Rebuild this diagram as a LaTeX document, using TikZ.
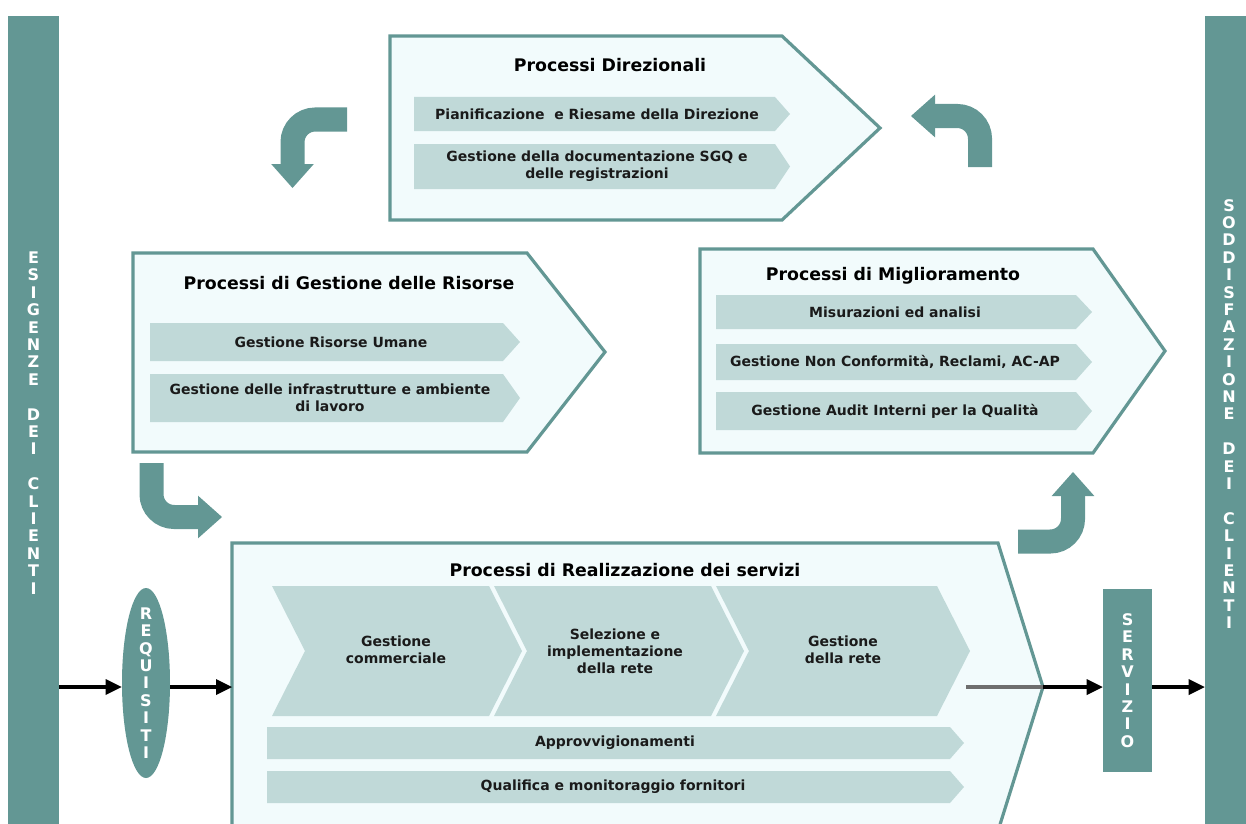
\documentclass[tikz,border=0pt]{standalone}
\usepackage{fontspec}
\setmainfont{DejaVu Sans}
\usepackage{xcolor}
\usepackage{tikz}
\usetikzlibrary{arrows.meta,shapes.geometric}

\definecolor{tealdark}{RGB}{99,151,148}
\definecolor{boxfill}{RGB}{242,251,252}
\definecolor{barfill}{RGB}{192,217,216}
\definecolor{textdark}{RGB}{26,26,26}
\definecolor{flowgray}{RGB}{110,110,110}

\begin{document}
\begin{tikzpicture}[x=0.75pt,y=-0.75pt,
    procbox/.style={draw=tealdark, line width=2.4pt, fill=boxfill},
    procbar/.style={fill=barfill},
    proctitle/.style={font=\fontsize{13}{15}\selectfont\bfseries, text=black},
    item/.style={font=\fontsize{10.5}{12.75}\selectfont\bfseries, text=textdark, align=center},
    letters/.style={font=\fontsize{12}{13.05}\selectfont\bfseries, text=white, align=center, inner sep=0pt},
    tealbar/.style={fill=tealdark, inner sep=0pt},
    flowarrow/.style={line width=3pt, -{Triangle[length=12pt,width=12pt,line width=0pt]}},
    bendarrow/.style={draw=tealdark, line width=18pt, rounded corners=17pt,
        -{Triangle[length=18pt,width=32pt,line width=0pt]}}]
    \useasboundingbox (0,0) rectangle (1246,824);

    % Customer bars
    \node[tealbar, minimum width=38.25pt, minimum height=610.5pt] (esigenze) at (33.5,423) {};
    \node[letters] (esigenzetext) at (esigenze)
        {E\\S\\I\\G\\E\\N\\Z\\E\\~\\D\\E\\I\\~\\C\\L\\I\\E\\N\\T\\I};
    \node[tealbar, minimum width=36pt, minimum height=610.5pt] (soddisfazione) at (1229,423) {};
    \node[letters] (soddisfazionetext) at (1229,414)
        {S\\O\\D\\D\\I\\S\\F\\A\\Z\\I\\O\\N\\E\\~\\D\\E\\I\\~\\C\\L\\I\\E\\N\\T\\I};

    % Processi Direzionali
    \draw[procbox] (390,36) -- (782,36) -- (880,128) -- (782,220) -- (390,220) -- cycle;
    \node[proctitle] (direzionali) at (610,65) {Processi Direzionali};
    \fill[procbar] (414,97) -- (775,97) -- (790,114) -- (775,131) -- (414,131) -- cycle;
    \node[item] (pianificazione) at (597,114) {Pianificazione \ e Riesame della Direzione};
    \fill[procbar] (414,144) -- (775,144) -- (790,166.5) -- (775,189) -- (414,189) -- cycle;
    \node[item] (documentazione) at (597,166.5) {Gestione della documentazione SGQ e\\delle registrazioni};

    % Processi di Gestione delle Risorse
    \draw[procbox] (133,253) -- (527,253) -- (605,352) -- (527,452) -- (133,452) -- cycle;
    \node[proctitle] (risorse) at (349,283) {Processi di Gestione delle Risorse};
    \fill[procbar] (150,323) -- (503,323) -- (520,342) -- (503,361) -- (150,361) -- cycle;
    \node[item] (umane) at (331,342) {Gestione Risorse Umane};
    \fill[procbar] (150,374) -- (503,374) -- (520,398) -- (503,422) -- (150,422) -- cycle;
    \node[item] (infrastrutture) at (330,398) {Gestione delle infrastrutture e ambiente\\di lavoro};

    % Processi di Miglioramento
    \draw[procbox] (700,249) -- (1093,249) -- (1165,351) -- (1093,453) -- (700,453) -- cycle;
    \node[proctitle] (miglioramento) at (893,276) {Processi di Miglioramento};
    \fill[procbar] (716,295) -- (1076,295) -- (1092,312) -- (1076,329) -- (716,329) -- cycle;
    \node[item] (misurazioni) at (895,312) {Misurazioni ed analisi};
    \fill[procbar] (716,344) -- (1076,344) -- (1092,362) -- (1076,380) -- (716,380) -- cycle;
    \node[item] (nonconformita) at (895,362) {Gestione Non Conformità, Reclami, AC-AP};
    \fill[procbar] (716,392) -- (1076,392) -- (1092,411) -- (1076,430) -- (716,430) -- cycle;
    \node[item] (audit) at (895,411) {Gestione Audit Interni per la Qualità};

    % Processi di Realizzazione dei servizi
    \draw[procbox] (232,543) -- (998,543) -- (1043,687) -- (998,831) -- (232,831) -- cycle;
    \node[proctitle] (realizzazione) at (625,570) {Processi di Realizzazione dei servizi};
    \fill[procbar] (272,586) -- (489,586) -- (522,651) -- (489,716) -- (272,716) -- (305,651) -- cycle;
    \node[item] (commerciale) at (396,650) {Gestione\\commerciale};
    \fill[procbar] (494,586) -- (711,586) -- (744,651) -- (711,716) -- (494,716) -- (527,651) -- cycle;
    \node[item] (selezione) at (615,651) {Selezione e\\implementazione\\della rete};
    \fill[procbar] (716,586) -- (937,586) -- (970,651) -- (937,716) -- (716,716) -- (749,651) -- cycle;
    \node[item] (gestionerete) at (843,650) {Gestione\\della rete};
    \fill[procbar] (267,727) -- (950,727) -- (964,743) -- (950,759) -- (267,759) -- cycle;
    \node[item] (approvvigionamenti) at (615,743) {Approvvigionamenti};
    \fill[procbar] (267,771) -- (950,771) -- (964,787) -- (950,803) -- (267,803) -- cycle;
    \node[item] (fornitori) at (613,787) {Qualifica e monitoraggio fornitori};

    % Requisiti and Servizio
    \node[ellipse, fill=tealdark, minimum width=36pt, minimum height=142.5pt, inner sep=0pt] (requisiti) at (146,683) {};
    \node[letters] (requisititext) at (requisiti) {R\\E\\Q\\U\\I\\S\\I\\T\\I};
    \node[tealbar, minimum width=36.75pt, minimum height=137.25pt] (servizio) at (1127.5,680.5) {};
    \node[letters] (serviziotext) at (servizio) {S\\E\\R\\V\\I\\Z\\I\\O};

    % Flow
    \coordinate (realin) at (232,687);
    \coordinate (realout) at (1043,687);
    \coordinate (reteout) at (966,687);
    \draw[flowarrow] (esigenze.east |- realin) -- (requisiti.west |- realin);
    \draw[flowarrow] (requisiti.east |- realin) -- (realin);
    \draw[flowgray, line width=3pt] (reteout) -- (realout);
    \draw[flowarrow] (realout) -- (servizio.west |- realout);
    \draw[flowarrow] (servizio.east |- realout) -- (soddisfazione.west |- realout);

    % Cycle arrows
    \draw[bendarrow] (347,119.5) -- (292.5,119.5) -- (292.5,188);
    \draw[bendarrow] (980,167) -- (980,116) -- (911,116);
    \draw[bendarrow] (151.5,463) -- (151.5,517) -- (222,517);
    \draw[bendarrow] (1018,541.5) -- (1073,541.5) -- (1073,472);
\end{tikzpicture}
\end{document}
